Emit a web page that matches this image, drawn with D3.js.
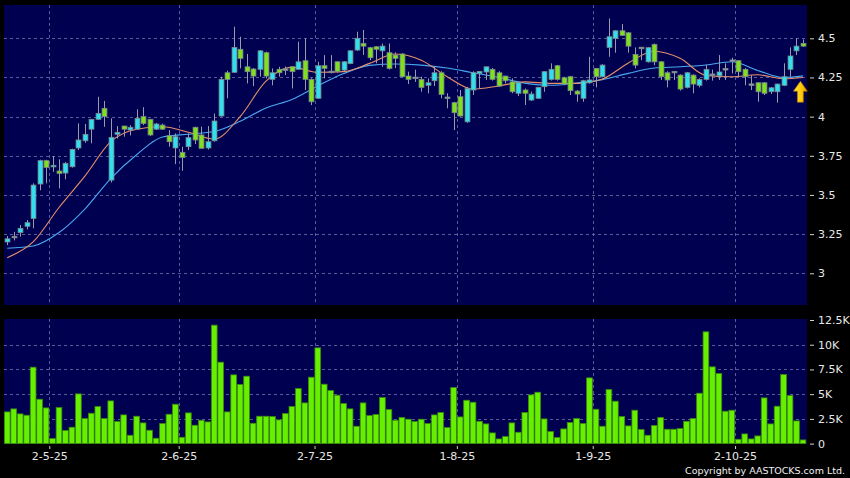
<!DOCTYPE html>
<html><head><meta charset="utf-8">
<script src="https://cdn.jsdelivr.net/npm/d3@7/dist/d3.min.js"></script>
<style>html,body{margin:0;padding:0;background:#000;}svg{display:block;}</style>
</head><body><div id="chart"></div>
<script>
// ---- DATA ----
const opens  = [3.20,3.232,3.26,3.30,3.35,3.57,3.719,3.68,3.653,3.64,3.68,3.80,3.846,3.92,3.983,4.053,3.595,3.887,3.94,3.915,3.92,4.00,3.983,3.92,3.946,3.878,3.80,3.772,3.808,3.932,3.883,3.80,3.846,4.004,4.28,4.283,4.43,4.318,4.304,4.302,4.408,4.238,4.302,4.305,4.318,4.302,4.357,4.238,4.117,4.325,4.287,4.35,4.297,4.339,4.425,4.467,4.44,4.446,4.42,4.408,4.393,4.40,4.259,4.25,4.238,4.20,4.229,4.28,4.123,4.089,4.127,3.967,4.17,4.276,4.285,4.302,4.28,4.259,4.222,4.149,4.17,4.106,4.117,4.191,4.238,4.325,4.248,4.255,4.163,4.117,4.216,4.308,4.255,4.442,4.50,4.548,4.535,4.397,4.44,4.35,4.461,4.35,4.28,4.286,4.265,4.187,4.265,4.20,4.238,4.27,4.261,4.305,4.36,4.357,4.302,4.207,4.216,4.216,4.159,4.159,4.20,4.302,4.42,4.467];
const highs  = [3.238,3.265,3.308,3.34,3.574,3.725,3.725,3.749,3.728,3.71,3.795,3.957,3.953,3.985,4.127,4.10,3.989,3.94,3.94,3.945,4.047,4.06,3.985,3.96,3.955,3.914,3.893,3.808,3.893,3.935,3.936,3.94,4.02,4.255,4.293,4.574,4.51,4.40,4.31,4.425,4.415,4.308,4.318,4.32,4.32,4.478,4.499,4.245,4.35,4.393,4.393,4.355,4.355,4.425,4.542,4.553,4.445,4.45,4.467,4.467,4.41,4.405,4.287,4.30,4.255,4.244,4.323,4.29,4.149,4.095,4.17,4.19,4.29,4.29,4.32,4.31,4.29,4.26,4.244,4.22,4.18,4.16,4.19,4.29,4.34,4.33,4.255,4.26,4.17,4.235,4.382,4.31,4.335,4.627,4.55,4.591,4.54,4.442,4.445,4.445,4.467,4.355,4.29,4.29,4.27,4.285,4.27,4.245,4.329,4.30,4.393,4.34,4.376,4.36,4.31,4.265,4.22,4.22,4.19,4.21,4.34,4.442,4.50,4.493];
const lows   = [3.18,3.21,3.234,3.28,3.287,3.53,3.574,3.648,3.542,3.60,3.675,3.787,3.833,3.83,3.98,3.935,3.58,3.86,3.872,3.88,3.915,3.946,3.876,3.915,3.915,3.808,3.697,3.655,3.787,3.825,3.798,3.79,3.84,4.0,4.117,4.28,4.308,4.212,4.195,4.255,4.244,4.20,4.255,4.265,4.18,4.30,4.17,4.074,4.115,4.244,4.276,4.28,4.29,4.335,4.42,4.393,4.361,4.34,4.318,4.30,4.31,4.25,4.208,4.222,4.159,4.149,4.195,4.117,4.053,3.914,4.0,3.96,4.138,4.18,4.234,4.23,4.19,4.212,4.149,4.131,4.074,4.10,4.115,4.159,4.23,4.23,4.20,4.138,4.095,4.095,4.21,4.187,4.25,4.382,4.408,4.515,4.408,4.308,4.36,4.345,4.329,4.234,4.187,4.234,4.166,4.18,4.149,4.187,4.23,4.23,4.234,4.234,4.276,4.255,4.20,4.17,4.095,4.138,4.144,4.089,4.195,4.255,4.393,4.445];
const closes = [3.22,3.236,3.287,3.323,3.563,3.719,3.676,3.689,3.638,3.702,3.791,3.851,3.887,3.983,4.021,4.00,3.868,3.90,3.92,3.932,3.989,3.957,3.883,3.953,3.92,3.84,3.872,3.74,3.866,3.851,3.798,3.84,3.972,4.238,4.238,4.442,4.372,4.287,4.259,4.42,4.259,4.28,4.28,4.300,4.287,4.35,4.238,4.095,4.325,4.308,4.29,4.287,4.35,4.42,4.50,4.45,4.376,4.43,4.45,4.308,4.372,4.255,4.238,4.252,4.187,4.216,4.28,4.142,4.125,4.025,4.004,4.18,4.28,4.289,4.318,4.238,4.195,4.229,4.159,4.216,4.149,4.144,4.187,4.287,4.302,4.238,4.208,4.166,4.144,4.229,4.234,4.255,4.329,4.51,4.548,4.519,4.45,4.329,4.443,4.44,4.35,4.255,4.234,4.289,4.176,4.28,4.208,4.238,4.302,4.272,4.285,4.307,4.362,4.287,4.255,4.209,4.159,4.149,4.184,4.208,4.255,4.387,4.45,4.45];
const volumes = [3205,3509,3003,2868,7726,4487,3610,506,3644,1316,1653,5027,2530,3070,3745,2530,4319,2227,2902,843,2767,2092,1350,540,2024,2969,3981,641,3104,1856,2362,2193,11978,8233,3205,6950,5972,6815,2058,2767,2767,2733,2396,3037,3745,5567,4116,6714,9683,6006,5365,4892,4049,3509,1754,4116,2834,2935,4656,3441,2362,2632,2463,2227,2463,2024,2902,3138,1620,5668,2699,4386,4184,2261,1991,1080,472,709,2092,1147,3138,4926,5196,2497,1215,607,1485,2126,2530,2024,6647,3475,1754,5466,4285,2733,1788,3374,1417,843,1822,2632,1451,1451,1518,2261,2530,5095,11303,7760,7085,3273,3374,439,978,472,776,4622,1991,3779,6984,4859,2294,371];
const maIndex  = [0,4,8,12,16,20,24,28,32,36,40,44,48,52,56,60,64,68,72,76,80,84,88,92,96,100,104,108,112,116,120,123];
const maFast   = [3.10,3.20,3.42,3.62,3.84,3.92,3.935,3.90,3.857,4.00,4.227,4.316,4.283,4.287,4.34,4.40,4.36,4.255,4.176,4.196,4.222,4.212,4.212,4.24,4.343,4.417,4.372,4.263,4.255,4.267,4.242,4.25];
const maSlow   = [3.16,3.174,3.26,3.41,3.605,3.757,3.87,3.888,3.905,3.97,4.055,4.11,4.196,4.275,4.327,4.336,4.329,4.31,4.28,4.25,4.214,4.20,4.214,4.236,4.276,4.31,4.318,4.33,4.35,4.295,4.25,4.26];
const monthStarts = [7,27,48,70,91,113];
const monthLabels = ['2-5-25','2-6-25','2-7-25','1-8-25','1-9-25','2-10-25'];
const priceTicks = [3,3.25,3.5,3.75,4,4.25,4.5];
const volTicks = [0,2500,5000,7500,10000,12500];

// ---- CHART ----
const W=850,H=478;
const svg=d3.select('#chart').append('svg').attr('width',W).attr('height',H);
svg.append('rect').attr('width',W).attr('height',H).attr('fill','#000');
const L=4,R=807, pTop=5,pBot=305, vTop=319,vBot=444;
const n=closes.length;
const x=d3.scaleLinear().domain([-0.5,n-0.5]).range([L,806.2]);
const step=x(1)-x(0);
const yP=d3.scaleLinear().domain([3,4.5]).range([273.3,38.3]);
const yV=d3.scaleLinear().domain([0,12500]).range([443.6,320]);
const bg='#000050', grid='#5a5a96';
const font='DejaVu Sans, Verdana, sans-serif';

svg.append('rect').attr('x',L).attr('y',pTop).attr('width',R-L).attr('height',pBot-pTop).attr('fill',bg);
svg.append('rect').attr('x',L).attr('y',vTop).attr('width',R-L).attr('height',vBot-vTop).attr('fill',bg);

// grids
const gP=svg.append('g');
gP.selectAll('line.h').data(priceTicks).join('line')
  .attr('x1',L).attr('x2',R).attr('y1',d=>Math.round(yP(d))+0.5).attr('y2',d=>Math.round(yP(d))+0.5)
  .attr('stroke',grid).attr('stroke-dasharray','3,3');
const gV=svg.append('g');
gV.selectAll('line.h').data(volTicks.filter(d=>d>0&&d<12500)).join('line')
  .attr('x1',L).attr('x2',R).attr('y1',d=>Math.round(yV(d))+0.5).attr('y2',d=>Math.round(yV(d))+0.5)
  .attr('stroke',grid).attr('stroke-dasharray','3,3');
[[pTop,pBot],[vTop,vBot]].forEach(([t,b])=>{
  svg.append('g').selectAll('line').data(monthStarts).join('line')
    .attr('x1',d=>Math.round(x(d-0.5))+0.5).attr('x2',d=>Math.round(x(d-0.5))+0.5)
    .attr('y1',t).attr('y2',b).attr('stroke',grid).attr('stroke-dasharray','3,3');
});

// MA lines
const maLine=(vals)=>d3.line().x((d,i)=>x(maIndex[i])).y(d=>yP(d)).curve(d3.curveMonotoneX)(vals);
svg.append('path').attr('d',maLine(maSlow)).attr('fill','none').attr('stroke','#4aa8f0').attr('stroke-width',1.1);
svg.append('path').attr('d',maLine(maFast)).attr('fill','none').attr('stroke','#e8906a').attr('stroke-width',1.1);

// candles
const idx=d3.range(n);
const up='#30e0f0', down='#80e020', flat='#a0a0b8';
const col=i=>Math.abs(closes[i]-opens[i])<0.006?flat:(closes[i]>opens[i]?up:down);
const bw=Math.max(3,step*0.75);
const gc=svg.append('g');
gc.selectAll('line').data(idx).join('line')
  .attr('x1',i=>Math.round(x(i))+0.5).attr('x2',i=>Math.round(x(i))+0.5)
  .attr('y1',i=>yP(highs[i])).attr('y2',i=>yP(lows[i]))
  .attr('stroke','#9a9aa8').attr('stroke-width',1);
gc.selectAll('rect').data(idx).join('rect')
  .attr('x',i=>Math.round(x(i))+0.5-bw/2).attr('width',bw)
  .attr('y',i=>Math.min(yP(opens[i]),yP(closes[i])))
  .attr('height',i=>Math.max(1.5,Math.abs(yP(opens[i])-yP(closes[i]))))
  .attr('fill',col).attr('stroke','#7a8a8a').attr('stroke-width',0.8);

// arrow marker
const ax=x(122.6), ay=yP(4.226);
svg.append('defs').html('<linearGradient id="ag" x1="0" x2="1" y1="0" y2="0"><stop offset="0" stop-color="#ffe840"/><stop offset="0.6" stop-color="#ffc800"/><stop offset="1" stop-color="#e09000"/></linearGradient>');
svg.append('path').attr('d',`M${ax},${ay} L${ax+7},${ay+10} L${ax+3},${ay+10} L${ax+3},${ay+21} L${ax-3},${ay+21} L${ax-3},${ay+10} L${ax-7},${ay+10} Z`)
  .attr('fill','url(#ag)').attr('stroke','#b07000').attr('stroke-width',0.6);

// volume bars
const vw=step*0.88;
svg.append('g').selectAll('rect').data(idx).join('rect')
  .attr('x',i=>x(i)-vw/2).attr('width',vw)
  .attr('y',i=>yV(volumes[i])).attr('height',i=>yV(0)-yV(volumes[i]))
  .attr('fill','#66f000').attr('stroke','#3a8a10').attr('stroke-width',0.8);

// axes
const styleAxis=g=>{g.select('.domain').remove();g.selectAll('line').attr('stroke','#d0d0d0');
  g.selectAll('text').attr('fill','#e8e8e8').attr('font-family',font).attr('font-size',11);};
svg.append('g').attr('transform',`translate(810,0)`)
  .call(d3.axisRight(yP).tickValues(priceTicks).tickSize(4).tickPadding(4).tickFormat(d=>d3.format('')(d)))
  .call(styleAxis);
svg.append('g').attr('transform',`translate(810,0)`)
  .call(d3.axisRight(yV).tickValues(volTicks).tickSize(4).tickPadding(4).tickFormat(d=>d===0?'0':(d/1000)+'K'))
  .call(styleAxis);
const xt=d3.scaleLinear().domain([0,n]).range([x(-0.5),x(n-0.5)]);
svg.append('g').attr('transform',`translate(0,446)`)
  .call(d3.axisBottom(xt).tickValues(monthStarts).tickSize(3).tickPadding(3).tickFormat((d,i)=>monthLabels[i]))
  .call(styleAxis);

svg.append('text').attr('x',845).attr('y',474).attr('text-anchor','end')
  .attr('fill','#f0f0f0').attr('font-family',font).attr('font-size',9.5).text('Copyright by AASTOCKS.com Ltd.');
</script></body></html>
